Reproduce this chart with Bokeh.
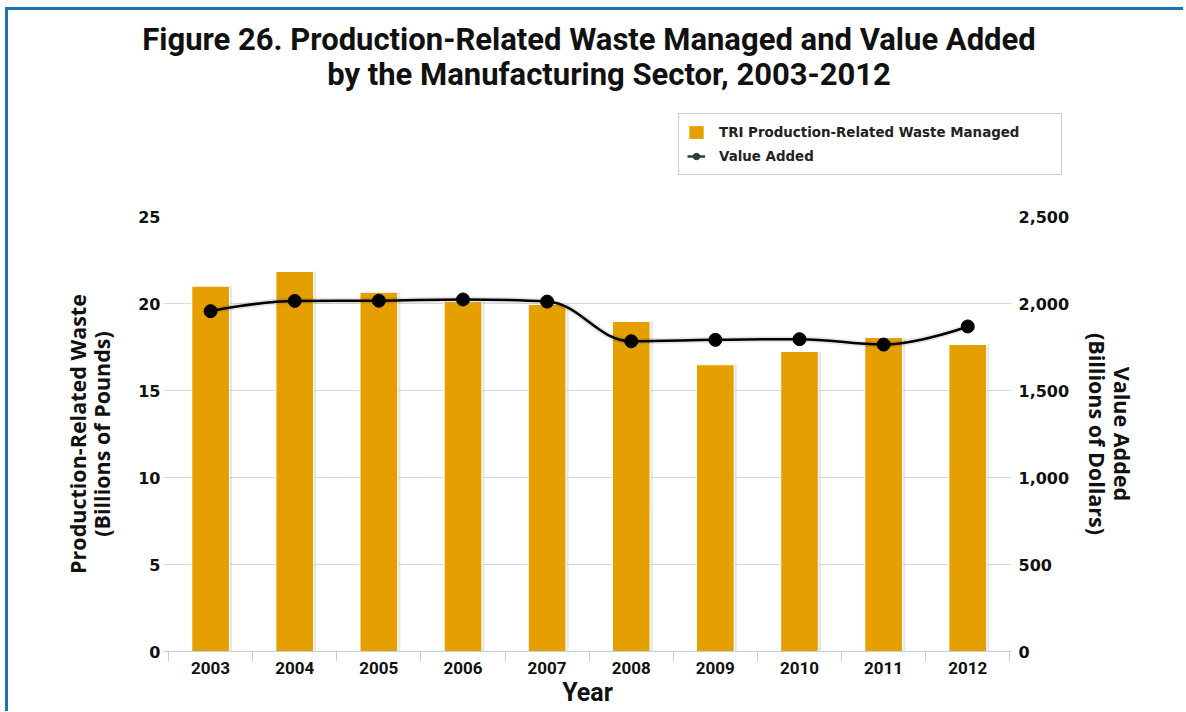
from bokeh.plotting import figure
from bokeh.layouts import column
from bokeh.models import (Range1d, LinearAxis, FixedTicker, NumeralTickFormatter,
                          Legend, LegendItem, Label, ColumnDataSource)
from bokeh.embed import file_html
from bokeh.resources import INLINE
from bokeh.transform import dodge

# ---------------- data ----------------
years = [2003, 2004, 2005, 2006, 2007, 2008, 2009, 2010, 2011, 2012]
year_labels = ["2003", "2004", "2005", "2006", "2007", "2008", "2009", "2010", "2011", "2012"]
waste = [21.0, 21.85, 20.65, 20.1, 19.95, 18.97, 16.48, 17.24, 18.05, 17.65]   # billions of pounds
value_added = [1956, 2015, 2016, 2023, 2011, 1783, 1791, 1795, 1764, 1868]     # billions of dollars
left_ticks = [0, 5, 10, 15, 20, 25]
right_ticks = [0, 500, 1000, 1500, 2000, 2500]

title_lines = ["Figure 26. Production-Related Waste Managed and Value Added",
               "by the Manufacturing Sector, 2003-2012"]
legend_labels = ["TRI Production-Related Waste Managed", "Value Added"]

BAR = "#E5A000"
BORDER = "3px solid #1a74b4"
TICK_FONT = "DejaVu Sans"
NARROW = "Roboto"
LABEL_FONT = "Open Sans"


def spline(xs, ys, smoothing=1.5):
    n = len(xs)
    left, right = [None] * n, [None] * n
    d = smoothing + 1
    for i in range(n):
        px, py = xs[i], ys[i]
        if 0 < i < n - 1:
            lx, ly = xs[i - 1], ys[i - 1]
            nx, ny = xs[i + 1], ys[i + 1]
            lcx, lcy = (smoothing * px + lx) / d, (smoothing * py + ly) / d
            rcx, rcy = (smoothing * px + nx) / d, (smoothing * py + ny) / d
            corr = ((rcy - lcy) * (rcx - px)) / (rcx - lcx) + py - rcy
            lcy += corr
            rcy += corr
            if lcy > ly and lcy > py:
                lcy = max(ly, py); rcy = 2 * py - lcy
            elif lcy < ly and lcy < py:
                lcy = min(ly, py); rcy = 2 * py - lcy
            if rcy > ny and rcy > py:
                rcy = max(ny, py); lcy = 2 * py - rcy
            elif rcy < ny and rcy < py:
                rcy = min(ny, py); lcy = 2 * py - rcy
            left[i], right[i] = (lcx, lcy), (rcx, rcy)
        else:
            left[i] = right[i] = (px, py)
    seg = dict(x0=[], y0=[], x1=[], y1=[], cx0=[], cy0=[], cx1=[], cy1=[])
    for i in range(n - 1):
        seg["x0"].append(xs[i]); seg["y0"].append(ys[i])
        seg["x1"].append(xs[i + 1]); seg["y1"].append(ys[i + 1])
        seg["cx0"].append(right[i][0]); seg["cy0"].append(right[i][1])
        seg["cx1"].append(left[i + 1][0]); seg["cy1"].append(left[i + 1][1])
    return seg


# ---------------- header (title + legend) ----------------
HA = 189
head = figure(width=1178, height=HA, output_backend="svg", toolbar_location=None,
              x_range=Range1d(0, 1175), y_range=Range1d(HA - 3, 0),
              x_axis_location=None, y_axis_location=None,
              min_border=0, min_border_left=0, min_border_right=0,
              min_border_top=0, min_border_bottom=0,
              background_fill_color="white", border_fill_color="white", outline_line_color=None)
head.frame_align = False
head.grid.visible = False
head.styles = {"border-top": BORDER, "border-left": BORDER}

title_x = [579, 599]
title_y = [29, 63]
for i, line in enumerate(title_lines):
    head.add_layout(Label(x=title_x[i], y=title_y[i], text=line, text_align="center",
                          text_baseline="alphabetic", text_font=NARROW, text_font_style="bold",
                          text_font_size="31px", text_color="#111111"))

# legend swatches: style-only proxies placed outside the visible header range
lg_bar = head.vbar(x=[-500], top=[-500], bottom=[-510], width=1, fill_color=BAR, line_color=None)
lg_line = head.line(x=[-500, -490], y=[-500, -500], line_color="#2f3d38", line_width=2.5)
lg_mark = head.scatter(x=[-500], y=[-500], size=7, marker="circle",
                       fill_color="#2f3d38", line_color="#2f3d38")
legend = Legend(items=[LegendItem(label=legend_labels[0], renderers=[lg_bar]),
                       LegendItem(label=legend_labels[1], renderers=[lg_line, lg_mark])],
                location=(670, 24), orientation="vertical",
                glyph_width=18, glyph_height=16, label_standoff=14, label_width=334,
                label_height=20, spacing=4, padding=8, margin=0,
                label_text_font=TICK_FONT, label_text_font_style="bold",
                label_text_font_size="13.4px", label_text_color="#222222",
                border_line_color="#999999", border_line_width=1,
                background_fill_color="white", background_fill_alpha=1.0)
head.add_layout(legend)

# ---------------- main chart ----------------
HB = 515
p = figure(width=1178, height=HB, output_backend="svg", toolbar_location=None,
           x_range=Range1d(2002.44, 2012.52), y_range=Range1d(0, 25),
           min_border_left=155, min_border_right=175, min_border_top=20, min_border_bottom=60,
           background_fill_color="white", border_fill_color="white", outline_line_color=None)
p.frame_align = False
p.styles = {"border-left": BORDER}
p.extra_y_ranges = {"right": Range1d(0, 2500)}

p.xgrid.visible = False
p.ygrid.ticker = FixedTicker(ticks=left_ticks)
p.ygrid.grid_line_color = "#D8D8D8"
p.ygrid.grid_line_width = 1

xa = p.xaxis[0]
xa.ticker = FixedTicker(ticks=years, minor_ticks=[y - 0.5 for y in years] + [years[-1] + 0.5])
xa.major_label_overrides = {y: l for y, l in zip(years, year_labels)}
xa.major_tick_line_color = None
xa.major_tick_out = 0
xa.major_tick_in = 0
xa.minor_tick_line_color = "#C0D0E0"
xa.minor_tick_in = 0
xa.minor_tick_out = 10
xa.axis_line_color = "#C0D0E0"
xa.major_label_text_font = NARROW
xa.major_label_text_font_style = "bold"
xa.major_label_text_font_size = "17px"
xa.major_label_text_color = "#111111"
xa.major_label_standoff = 0
xa.axis_label = "Year"
xa.axis_label_text_font = NARROW
xa.axis_label_text_font_style = "bold"
xa.axis_label_text_font_size = "25px"
xa.axis_label_text_color = "#111111"
xa.axis_label_standoff = 1

ya = p.yaxis[0]
ya.ticker = FixedTicker(ticks=left_ticks)
ya.axis_line_color = None
ya.major_tick_line_color = None
ya.major_tick_out = 0
ya.major_tick_in = 0
ya.minor_tick_line_color = None
ya.major_label_standoff = 3
ya.major_label_text_font = TICK_FONT
ya.major_label_text_font_style = "bold"
ya.major_label_text_font_size = "16px"
ya.major_label_text_color = "#111111"
ya.axis_label = "Production-Related Waste\n(Billions of Pounds)"
ya.axis_label_text_font = LABEL_FONT
ya.axis_label_text_font_style = "bold"
ya.axis_label_text_font_size = "21.5px"
ya.axis_label_text_line_height = 0.85
ya.axis_label_text_color = "#111111"
ya.axis_label_standoff = 19

ra = LinearAxis(y_range_name="right", ticker=FixedTicker(ticks=right_ticks),
                formatter=NumeralTickFormatter(format="0,0"))
ra.axis_line_color = None
ra.major_tick_line_color = None
ra.major_tick_out = 0
ra.major_tick_in = 0
ra.minor_tick_line_color = None
ra.major_label_standoff = 7
ra.major_label_text_font = TICK_FONT
ra.major_label_text_font_style = "bold"
ra.major_label_text_font_size = "16px"
ra.major_label_text_color = "#111111"
ra.axis_label = "Value Added\n(Billions of Dollars)"
ra.axis_label_text_font = LABEL_FONT
ra.axis_label_text_font_style = "bold"
ra.axis_label_text_font_size = "21.5px"
ra.axis_label_text_line_height = 0.85
ra.axis_label_text_color = "#111111"
ra.axis_label_standoff = 11
p.add_layout(ra, "right")

src = ColumnDataSource(dict(year=years, waste=waste))
p.vbar(x=dodge("year", 0.025), top="waste", width=0.46, source=src,
       fill_color="black", fill_alpha=0.10, line_color=None)
p.vbar(x="year", top="waste", width=0.45, source=src,
       fill_color=BAR, line_color="white", line_width=1.2)

seg = spline(years, value_added)
p.bezier(source=ColumnDataSource(seg), x0="x0", y0="y0", x1="x1", y1="y1",
         cx0="cx0", cy0="cy0", cx1="cx1", cy1="cy1",
         line_color="black", line_alpha=0.10, line_width=6, y_range_name="right")
p.bezier(source=ColumnDataSource(seg), x0="x0", y0="y0", x1="x1", y1="y1",
         cx0="cx0", cy0="cy0", cx1="cx1", cy1="cy1",
         line_color="black", line_width=2.5, y_range_name="right")
p.scatter(years, value_added, size=13, marker="circle", fill_color="black",
          line_color="black", y_range_name="right")

layout = column(head, p, spacing=0)
layout.styles = {"margin-left": "5px", "margin-top": "7px"}

open("out.html", "w").write(file_html(layout, INLINE))
